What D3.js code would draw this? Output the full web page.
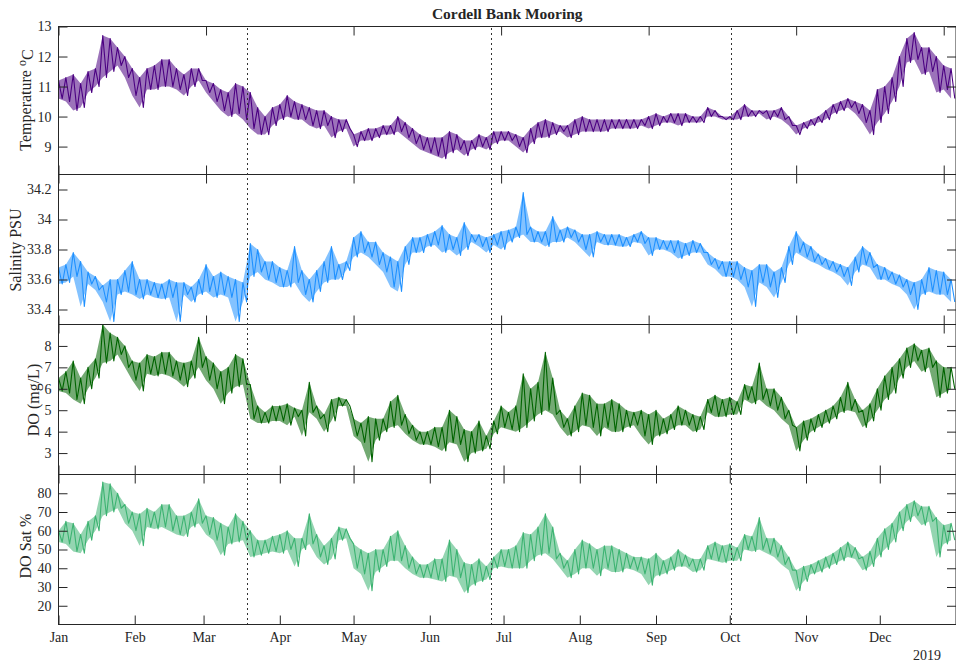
<!DOCTYPE html>
<html><head><meta charset="utf-8">
<script src="https://cdn.jsdelivr.net/npm/d3@7"></script>
<style>
body{margin:0;background:#fff}
text{font-family:"Liberation Serif","Times New Roman",Times,serif;fill:#262626}
</style>
</head><body>
<svg id="chart" width="956" height="669"></svg>
<script>
// ---------- DATA (lo/hi envelope every 3 days from 1 Jan 2019) ----------
const sampleDays = d3.range(0, 364, 3);

const tempLo = [10.6,10.5,10.2,10.3,10.8,11.0,11.3,11.5,11.7,11.3,10.7,10.3,10.9,10.9,11.0,11.0,10.9,10.7,11.0,11.2,10.8,10.5,10.2,10.0,10.1,9.9,9.6,9.4,9.4,9.7,9.9,10.0,9.9,9.9,9.7,9.6,9.7,
  9.3,9.5,9.6,9.0,9.2,9.2,9.3,9.4,9.4,9.5,9.3,9.1,8.9,8.8,8.7,8.6,8.8,8.9,8.7,8.9,9.0,8.9,9.1,9.2,9.2,9.0,8.8,9.1,9.3,9.3,9.4,9.5,9.3,9.4,9.5,9.5,9.5,9.5,9.6,9.6,9.6,
  9.6,9.7,9.6,9.7,9.8,9.8,9.7,9.8,9.8,9.8,10.0,10.0,9.9,9.9,9.9,10.0,10.0,10.1,9.9,10.0,9.9,9.7,9.4,9.6,9.7,9.8,9.9,10.1,10.2,10.3,10.1,9.8,9.4,9.8,10.1,10.5,11.0,11.8,11.9,11.4,11.5,10.8,10.9,10.6];
const tempHi = [11.2,11.3,11.4,11.1,11.5,11.6,12.7,12.6,12.3,12.0,11.6,11.3,11.6,11.7,11.9,11.9,11.6,11.4,11.6,11.6,11.2,11.1,10.9,10.8,11.1,11.0,10.8,10.3,10.0,10.3,10.4,10.7,10.5,10.4,10.3,10.2,10.2,
  10.0,9.9,9.9,9.4,9.5,9.6,9.6,9.7,9.7,10.0,9.8,9.6,9.4,9.3,9.3,9.3,9.5,9.4,9.2,9.2,9.4,9.3,9.5,9.5,9.5,9.4,9.3,9.6,9.8,9.9,9.8,9.7,9.7,9.9,10.0,9.9,9.9,9.9,9.9,9.9,9.9,
  9.9,9.9,10.0,10.1,10.0,10.1,10.1,10.1,10.0,10.0,10.3,10.2,10.0,10.0,10.2,10.4,10.2,10.2,10.2,10.2,10.3,10.0,9.7,9.8,9.9,10.0,10.2,10.4,10.5,10.6,10.5,10.4,10.2,10.9,11.0,11.3,12.0,12.6,12.8,12.3,12.3,12.0,11.7,11.6];

const salLo = [33.57,33.58,33.62,33.42,33.57,33.53,33.45,33.32,33.5,33.52,33.5,33.47,33.5,33.48,33.47,33.48,33.32,33.5,33.45,33.5,33.52,33.48,33.5,33.48,33.32,33.45,33.62,33.65,33.6,33.58,33.55,33.55,33.58,33.5,33.45,33.52,33.58,
  33.6,33.6,33.66,33.75,33.78,33.75,33.7,33.65,33.55,33.52,33.7,33.78,33.78,33.82,33.83,33.78,33.8,33.76,33.8,33.85,33.82,33.78,33.83,33.8,33.85,33.88,33.9,33.85,33.85,33.82,33.85,33.85,33.88,33.85,33.8,33.75,33.85,33.83,33.83,33.82,33.82,
  33.85,33.84,33.76,33.8,33.8,33.78,33.74,33.76,33.78,33.78,33.7,33.67,33.62,33.62,33.6,33.55,33.42,33.58,33.55,33.48,33.58,33.7,33.78,33.75,33.72,33.7,33.67,33.65,33.62,33.56,33.65,33.7,33.68,33.6,33.6,33.57,33.55,33.5,33.4,33.5,33.52,33.5,33.5,33.45];
const salHi = [33.68,33.70,33.78,33.72,33.65,33.62,33.56,33.6,33.6,33.66,33.72,33.6,33.6,33.58,33.57,33.6,33.58,33.58,33.55,33.6,33.7,33.62,33.65,33.62,33.6,33.58,33.84,33.8,33.72,33.72,33.68,33.66,33.82,33.66,33.6,33.66,33.72,
  33.82,33.7,33.72,33.88,33.92,33.85,33.85,33.78,33.75,33.72,33.82,33.88,33.88,33.9,33.92,33.96,33.9,33.88,33.98,33.9,33.9,33.88,33.9,33.92,33.93,33.95,34.18,33.95,33.92,33.92,34.02,33.93,33.95,33.93,33.9,33.9,33.92,33.9,33.9,33.9,33.88,
  33.9,33.92,33.88,33.88,33.86,33.86,33.86,33.84,33.86,33.84,33.78,33.74,33.72,33.72,33.72,33.68,33.66,33.7,33.7,33.65,33.68,33.82,33.92,33.85,33.82,33.77,33.74,33.72,33.7,33.68,33.75,33.82,33.78,33.7,33.68,33.65,33.63,33.6,33.58,33.6,33.68,33.66,33.65,33.6];

const doLo = [5.9,5.8,5.5,5.3,6.0,6.5,7.2,7.3,7.6,7.0,6.4,5.9,6.7,6.6,6.7,6.6,6.4,6.1,6.5,7.0,6.4,6.0,5.3,5.8,6.1,6.2,4.6,4.4,4.4,4.5,4.5,4.3,4.7,3.8,4.9,4.6,4.0,
  4.5,5.2,5.2,3.8,3.5,2.6,3.6,4.0,4.2,4.3,3.9,3.6,3.4,3.4,3.3,3.1,3.5,3.4,2.6,3.0,3.1,3.2,3.9,4.2,4.1,4.0,4.2,4.5,4.8,5.0,4.8,4.2,3.8,4.0,4.3,4.2,3.8,4.2,4.0,4.0,4.2,
  4.3,3.8,3.4,3.8,3.9,4.1,4.3,4.3,4.0,4.1,4.9,4.7,4.7,4.8,4.8,5.5,5.3,5.5,5.2,5.0,4.6,4.3,3.1,3.6,4.0,4.2,4.4,4.6,4.9,5.0,4.9,4.2,4.5,5.0,5.5,5.8,6.5,7.0,7.3,6.8,7.0,5.6,5.8,6.0];
const doHi = [6.5,6.8,7.3,6.5,7.0,7.4,9.0,8.6,8.4,8.0,7.3,7.2,7.6,7.5,7.7,7.7,7.3,7.2,7.3,8.4,7.5,7.2,6.8,7.0,7.6,7.4,6.2,5.2,4.9,5.2,5.2,5.3,5.1,5.0,6.3,5.2,4.8,
  5.5,5.6,5.5,4.6,4.4,4.7,4.6,4.6,5.4,5.7,4.8,4.3,4.0,4.0,4.2,4.2,5.0,4.7,4.1,4.0,4.5,3.8,4.5,5.2,4.9,5.2,6.7,6.0,6.3,7.7,6.5,5.0,4.6,5.2,5.8,5.7,5.3,5.3,5.5,5.3,5.0,
  4.9,5.0,4.8,5.0,4.6,4.8,5.2,5.0,4.8,4.7,5.5,5.7,5.5,5.6,5.4,6.2,6.1,7.2,6.0,6.0,5.6,5.0,4.2,4.5,4.6,4.8,5.0,5.2,5.6,6.3,5.5,5.0,5.3,6.0,6.6,7.0,7.4,7.9,8.1,7.8,7.9,7.3,7.0,7.0];

const satLo = [54,53,49,48,55,60,68,70,72,64,60,52,62,61,62,60,58,57,62,64,58,55,47,53,54,55,46,47,48,49,48,50,41,50,53,46,42,
  45,55,56,40,37,28,38,41,44,44,40,37,35,35,34,33,36,35,27,31,33,34,40,41,40,40,40,44,47,48,45,40,35,37,40,40,36,40,38,38,40,
  39,37,31,36,37,39,41,41,38,39,45,44,43,44,44,50,49,50,48,46,42,39,28,33,37,38,40,42,44,46,45,39,41,46,50,54,60,65,68,63,65,46,53,55];
const satHi = [60,65,64,58,65,68,86,85,80,74,70,69,72,70,74,74,68,68,70,77,68,67,64,62,69,65,60,55,55,57,58,60,56,56,69,58,52,
  56,62,61,53,50,48,50,50,57,60,52,46,42,42,45,45,55,50,43,42,45,41,46,50,50,52,59,58,62,69,62,48,44,50,55,53,50,52,52,50,48,
  46,46,45,48,44,46,50,47,45,45,52,54,52,53,51,58,57,67,56,56,52,46,39,41,42,44,46,48,51,54,51,46,49,56,61,64,70,74,76,73,73,67,63,64];

const tempTicks = [9, 10, 11, 12, 13];
const salTicks = [33.4, 33.6, 33.8, 34, 34.2];
const doTicks = [3, 4, 5, 6, 7, 8];
const satTicks = [20, 30, 40, 50, 60, 70, 80];
const wideTickDays = [0, 60, 120, 180, 240, 300, 360];
const deploymentDates = ["2019-03-18T14:00:00Z", "2019-06-25T20:00:00Z", "2019-10-01T08:00:00Z"];
const title = "Cordell Bank Mooring";
const yearLabel = "2019";

// ---------- LAYOUT ----------
const svg = d3.select("#chart");
const left = 58.5, right = 956;
const start = new Date(Date.UTC(2019, 0, 1)), end = new Date(Date.UTC(2020, 0, 1));
const x = d3.scaleUtc().domain([start, end]).range([left, right]);
const dayDate = d => new Date(start.getTime() + d * 86400000);
const TL = 9;
const ink = "#262626";

const panels = [
  {lo: tempLo, hi: tempHi, top: 26.5, bottom: 174.5, domain: [8.07, 13], ticks: tempTicks, color: "#4B0082", topTicks: "wide", botTicks: "wide", label: "temp", lx: 31, ly: 100},
  {lo: salLo, hi: salHi, top: 174.5, bottom: 324.5, domain: [33.3, 34.3], ticks: salTicks, color: "#1E90FF", topTicks: "wide", botTicks: "wide", label: "Salinity PSU", lx: 21, ly: 250},
  {lo: doLo, hi: doHi, top: 324.5, bottom: 474.5, domain: [2, 9], ticks: doTicks, color: "#006400", topTicks: "wide", botTicks: "month", label: "DO (mg/L)", lx: 38.5, ly: 400},
  {lo: satLo, hi: satHi, top: 474.5, bottom: 624.5, domain: [10, 90], ticks: satTicks, color: "#3CB371", topTicks: "month", botTicks: "month", label: "DO Sat %", lx: 30.5, ly: 546}
];

const monthTicks = d3.utcMonth.range(start, end);
const wideTicks = wideTickDays.map(dayDate);

panels.forEach((p, k) => {
  const y = d3.scaleLinear().domain(p.domain).range([p.bottom, p.top]);
  const g = svg.append("g");
  const clipId = "clip" + k;
  svg.append("clipPath").attr("id", clipId).append("rect")
    .attr("x", left).attr("y", p.top).attr("width", right - left).attr("height", p.bottom - p.top);

  const area = d3.area().x((d, i) => x(dayDate(sampleDays[i])))
    .y0((d, i) => y(p.lo[i])).y1((d, i) => y(p.hi[i]));
  g.append("path").datum(sampleDays).attr("clip-path", `url(#${clipId})`)
    .attr("d", area).attr("fill", p.color).attr("fill-opacity", 0.55).attr("stroke", "none");

  const zig = sampleDays.flatMap((d, i) => [[d, p.hi[i]], [d + 1.5, p.lo[i]]]);
  g.append("path").datum(zig).attr("clip-path", `url(#${clipId})`)
    .attr("d", d3.line().x(d => x(dayDate(d[0]))).y(d => y(d[1])))
    .attr("fill", "none").attr("stroke", p.color).attr("stroke-width", 1.1).attr("stroke-linejoin", "round");

  // y axes (inward ticks)
  const ya = g.append("g").attr("transform", `translate(${left},0)`)
    .call(d3.axisLeft(y).tickValues(p.ticks).tickSize(-TL).tickPadding(7).tickFormat(d => String(d)));
  const yb = g.append("g").attr("transform", `translate(${right},0)`)
    .call(d3.axisRight(y).tickValues(p.ticks).tickSize(-TL).tickFormat(""));
  // x axes
  const tv = t => t === "wide" ? wideTicks : monthTicks;
  const xt = g.append("g").attr("transform", `translate(0,${p.top})`)
    .call(d3.axisTop(x).tickValues(tv(p.topTicks)).tickSize(-TL).tickFormat(""));
  const xbAxis = d3.axisBottom(x).tickValues(tv(p.botTicks)).tickSize(-TL).tickPadding(8);
  xbAxis.tickFormat(k === 3 ? d3.utcFormat("%b") : () => "");
  const xb = g.append("g").attr("transform", `translate(0,${p.bottom})`).call(xbAxis);
  [ya, yb, xt, xb].forEach(a => {
    a.select(".domain").remove();
    a.selectAll("line").attr("stroke", ink);
    a.selectAll("text").attr("font-size", 14).attr("font-family", '"Liberation Serif","Times New Roman",serif').attr("fill", ink);
  });

  g.append("rect").attr("x", left).attr("y", p.top).attr("width", right - left).attr("height", p.bottom - p.top)
    .attr("fill", "none").attr("stroke", ink).attr("stroke-width", 1);

  // y label
  const t = svg.append("text").attr("transform", `translate(${p.lx},${p.ly}) rotate(-90)`)
    .attr("text-anchor", "middle").attr("font-size", 16);
  if (p.label === "temp") {
    t.append("tspan").text("Temperature ");
    t.append("tspan").attr("font-size", 12).attr("dy", "-0.45em").text("o");
    t.append("tspan").attr("dy", "0.45em").text("C");
  } else {
    t.text(p.label);
  }
});

// deployment lines
svg.append("g").selectAll("line").data(deploymentDates).join("line")
  .attr("x1", d => Math.round(x(new Date(d))) + 0.5).attr("x2", d => Math.round(x(new Date(d))) + 0.5)
  .attr("y1", 28).attr("y2", 624)
  .attr("stroke", "#333").attr("stroke-width", 1).attr("stroke-dasharray", "2,3");

svg.append("text").attr("x", (left + right) / 2).attr("y", 18.5).attr("text-anchor", "middle")
  .attr("font-size", 15.5).attr("font-weight", "bold").text(title);
svg.append("text").attr("x", 941).attr("y", 660).attr("text-anchor", "end").attr("font-size", 14).text(yearLabel);
</script>
</body></html>
